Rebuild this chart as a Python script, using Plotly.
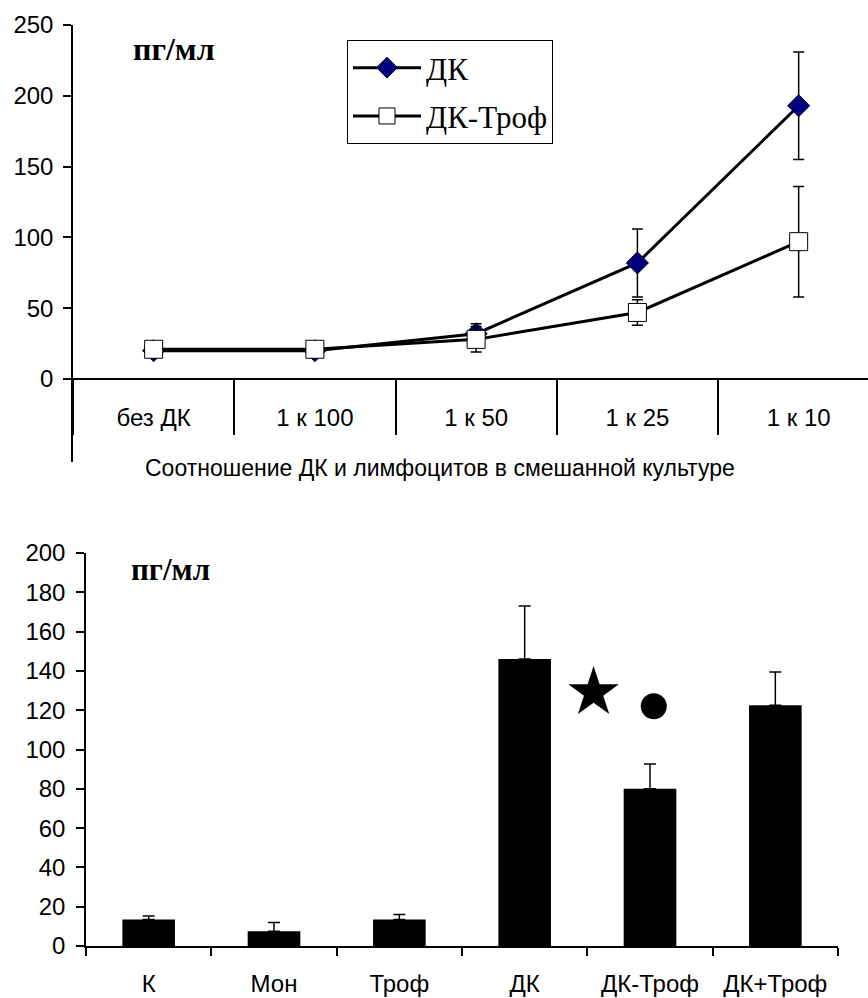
import plotly.graph_objects as go

# ---------------- data ----------------
top_categories = ["без ДК", "1 к 100", "1 к 50", "1 к 25", "1 к 10"]
dk_values = [20, 20, 32, 82, 193]
dk_errors = [0, 0, 7, 24, 38]
dktrof_values = [21, 21, 28, 47, 97]
dktrof_errors = [0, 0, 9, 9, 39]
top_yticks = [0, 50, 100, 150, 200, 250]

bar_categories = ["К", "Мон", "Троф", "ДК", "ДК-Троф", "ДК+Троф"]
bar_values = [13.5, 7.5, 13.5, 146, 80, 122.5]
bar_errors = [1.8, 4.5, 2.5, 27, 12.6, 17]
sig_symbols = ["star", "circle"]
sig_x = [3.55, 4.03]
sig_y = [129, 122]

unit_label = "пг/мл"
x_title = "Соотношение ДК и лимфоцитов в смешанной культуре"

# ---------------- layout helpers ----------------
W, H = 868, 998
def px(x):
    return x / W
def py(y):
    return 1 - y / H

SANS = "Liberation Sans, Arial, sans-serif"
SERIF = "Liberation Serif, Times New Roman, serif"

fig = go.Figure()

top_index = list(range(len(top_categories)))

# top chart lines
fig.add_trace(go.Scatter(
    x=top_categories, y=dk_values, name="ДК", mode="lines+markers",
    xaxis="x", yaxis="y", legendgroup="a",
    line=dict(color="black", width=3),
    marker=dict(symbol="diamond", size=17, color="#000080", line=dict(color="black", width=1)),
    error_y=dict(type="data", array=dk_errors, color="black", thickness=1.5, width=5.5),
))
fig.add_trace(go.Scatter(
    x=top_categories, y=dktrof_values, name="ДК-Троф", mode="lines+markers",
    xaxis="x", yaxis="y", legendgroup="b",
    line=dict(color="black", width=3),
    marker=dict(symbol="square", size=18, color="white", line=dict(color="black", width=1)),
    error_y=dict(type="data", array=dktrof_errors, color="black", thickness=1.5, width=5.5),
))
# invisible helper so the label axis (x3) gets drawn
fig.add_trace(go.Scatter(
    x=top_index, y=dk_values, xaxis="x3", yaxis="y", mode="markers",
    marker=dict(opacity=0, size=1), showlegend=False, hoverinfo="skip",
))

# bottom chart bars
fig.add_trace(go.Bar(
    x=bar_categories, y=bar_values, xaxis="x2", yaxis="y2", showlegend=False,
    width=0.42, marker=dict(color="black", line=dict(width=0)),
    error_y=dict(type="data", array=bar_errors, arrayminus=[0] * len(bar_errors),
                 color="black", thickness=1.5, width=6),
))
fig.add_trace(go.Scatter(
    x=sig_x, y=sig_y, xaxis="x4", yaxis="y2", mode="markers", showlegend=False,
    opacity=1,
    marker=dict(symbol=sig_symbols, size=[38, 26], color="#000000", opacity=1,
                line=dict(width=0, color="#000000")),
))

tick_font = dict(family=SANS, size=24, color="black")

fig.update_layout(
    width=W, height=H,
    margin=dict(l=0, r=0, t=0, b=0, autoexpand=False),
    paper_bgcolor="white", plot_bgcolor="white",
    showlegend=True,
    legend=dict(
        x=px(347), y=py(40), xanchor="left", yanchor="top",
        font=dict(family=SERIF, size=31, color="black"),
        bordercolor="black", borderwidth=1, bgcolor="white",
        tracegroupgap=5, itemwidth=68,
    ),
    # top chart
    xaxis=dict(
        domain=[px(73), 1], type="category", categoryorder="array",
        categoryarray=top_categories, range=[-0.5, 4.43],
        anchor="free", position=py(379), automargin=False,
        showline=True, linecolor="black", linewidth=1.5,
        ticks="outside", tickson="boundaries", ticklen=55, tickwidth=1.5, tickcolor="black",
        showticklabels=False, showgrid=False, zeroline=False,
    ),
    xaxis3=dict(
        overlaying="x", type="linear", range=[-0.5, 4.43],
        anchor="free", position=py(379), automargin=False,
        tickmode="array", tickvals=top_index, ticktext=top_categories,
        ticks="outside", ticklen=17, tickcolor="rgba(0,0,0,0)",
        showline=False, showgrid=False, zeroline=False, tickfont=tick_font,
    ),
    yaxis=dict(
        domain=[py(462), py(25)], range=[-58.6, 250],
        tickmode="array", tickvals=top_yticks, automargin=False,
        anchor="x", showline=True, linecolor="black", linewidth=1.5,
        ticks="outside", ticklen=8, tickwidth=1.5, tickcolor="black",
        ticklabelstandoff=5,
        showgrid=False, zeroline=False, tickfont=tick_font,
    ),
    # bottom chart
    xaxis2=dict(
        domain=[px(86), px(838)], type="category", categoryorder="array",
        categoryarray=bar_categories, anchor="y2", automargin=False,
        showline=True, linecolor="black", linewidth=1.5,
        ticks="outside", tickson="boundaries", ticklen=8, tickwidth=1.5, tickcolor="black",
        ticklabelstandoff=15,
        showgrid=False, zeroline=False, tickfont=tick_font,
    ),
    xaxis4=dict(
        overlaying="x2", type="linear", range=[-0.5, 5.5], anchor="y2", visible=False,
        automargin=False,
    ),
    yaxis2=dict(
        domain=[py(946), py(553)], range=[0, 200], dtick=20, automargin=False,
        anchor="x2", showline=True, linecolor="black", linewidth=1.5,
        ticks="outside", ticklen=8, tickwidth=1.5, tickcolor="black",
        ticklabelstandoff=6,
        showgrid=False, zeroline=False, tickfont=tick_font,
    ),
    annotations=[
        dict(text=unit_label, xref="paper", yref="paper", x=px(174), y=py(49),
             xanchor="center", yanchor="middle", showarrow=False,
             font=dict(family=SERIF, size=32, color="black", weight="bold")),
        dict(text=unit_label, xref="paper", yref="paper", x=px(170), y=py(569),
             xanchor="center", yanchor="middle", showarrow=False,
             font=dict(family=SERIF, size=31, color="black", weight="bold")),
        dict(text=x_title, xref="paper", yref="paper", x=px(440), y=py(468),
             xanchor="center", yanchor="middle", showarrow=False,
             font=dict(family=SANS, size=23, color="black")),
    ],
)

fig.write_html(
    "out.html",
    config={"displayModeBar": False},
    post_script="document.body.style.margin='0';document.body.style.overflow='hidden';",
)
